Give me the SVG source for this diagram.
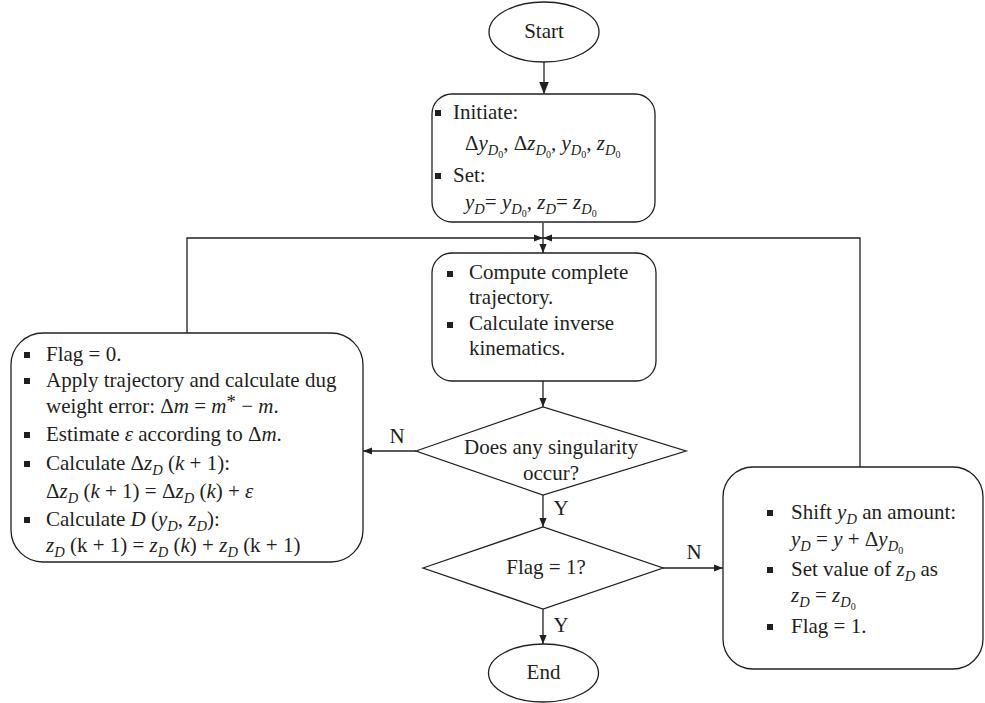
<svg xmlns="http://www.w3.org/2000/svg" width="985" height="703" viewBox="0 0 985 703">
<defs>
<style>
.ln{stroke:#231f20;stroke-width:1.3;fill:none}
.box{fill:#fff;stroke:#231f20;stroke-width:1.3}
.t{font-family:"Liberation Serif","Times New Roman",serif;font-size:21px;fill:#231f20}
.c{text-anchor:middle}
.i{font-style:italic}
.s{font-size:14.5px}
.ss{font-size:10px;font-style:normal}
.b{fill:#231f20}
</style>
<marker id="ah" viewBox="0 0 10 8" refX="10" refY="4" markerWidth="9" markerHeight="8" markerUnits="userSpaceOnUse" orient="auto"><path d="M0,0 L10,4 L0,8 z" fill="#231f20"/></marker>
<marker id="ahb" viewBox="0 0 10 8" refX="10" refY="4" markerWidth="12" markerHeight="11" markerUnits="userSpaceOnUse" orient="auto"><path d="M0,0 L10,4 L0,8 z" fill="#231f20"/></marker>
</defs>
<g id="connectors">
<line class="ln" x1="544" y1="62" x2="544" y2="94" marker-end="url(#ahb)"/>
<line class="ln" x1="543" y1="223" x2="543" y2="253" marker-end="url(#ah)"/>
<path class="ln" d="M187,333 V238 H543" marker-end="url(#ah)"/>
<path class="ln" d="M860,467 V238 H543" marker-end="url(#ah)"/>
<line class="ln" x1="543" y1="381" x2="543" y2="407" marker-end="url(#ah)"/>
<line class="ln" x1="416" y1="451" x2="363" y2="451" marker-end="url(#ah)"/>
<line class="ln" x1="543" y1="495" x2="543" y2="527" marker-end="url(#ah)"/>
<line class="ln" x1="663" y1="568" x2="723" y2="568" marker-end="url(#ah)"/>
<line class="ln" x1="543" y1="609" x2="543" y2="644" marker-end="url(#ah)"/>
<text class="t c" x="397" y="443">N</text>
<text class="t c" x="694" y="559">N</text>
<text class="t c" x="561" y="515">Y</text>
<text class="t c" x="561" y="632">Y</text>
</g>
<g id="start">
<ellipse class="box" cx="544" cy="32" rx="55" ry="30"/>
<text class="t c" x="544" y="38">Start</text>
</g>
<g id="init">
<rect class="box" x="432" y="94" width="223" height="128" rx="20"/>
<rect class="b" x="435" y="110" width="6" height="6"/>
<text class="t" x="453" y="119">Initiate:</text>
<text class="t" x="465" y="150">Δ<tspan class="i">y</tspan><tspan class="i s" dy="5">D</tspan><tspan class="ss" dy="3">0</tspan><tspan dy="-8">, Δ</tspan><tspan class="i">z</tspan><tspan class="i s" dy="5">D</tspan><tspan class="ss" dy="3">0</tspan><tspan dy="-8">, </tspan><tspan class="i">y</tspan><tspan class="i s" dy="5">D</tspan><tspan class="ss" dy="3">0</tspan><tspan dy="-8">, </tspan><tspan class="i">z</tspan><tspan class="i s" dy="5">D</tspan><tspan class="ss" dy="3">0</tspan></text>
<rect class="b" x="435" y="173" width="6" height="6"/>
<text class="t" x="453" y="182">Set:</text>
<text class="t" x="465" y="209"><tspan class="i">y</tspan><tspan class="i s" dy="5">D</tspan><tspan dy="-5">= </tspan><tspan class="i">y</tspan><tspan class="i s" dy="5">D</tspan><tspan class="ss" dy="3">0</tspan><tspan dy="-8">, </tspan><tspan class="i">z</tspan><tspan class="i s" dy="5">D</tspan><tspan dy="-5">= </tspan><tspan class="i">z</tspan><tspan class="i s" dy="5">D</tspan><tspan class="ss" dy="3">0</tspan></text>
</g>
<g id="compute">
<rect class="box" x="432" y="253" width="224" height="128" rx="20"/>
<rect class="b" x="447" y="271" width="6" height="6"/>
<text class="t" x="469" y="279">Compute complete</text>
<text class="t" x="469" y="304">trajectory.</text>
<rect class="b" x="447" y="322" width="6" height="6"/>
<text class="t" x="469" y="330">Calculate inverse</text>
<text class="t" x="469" y="355">kinematics.</text>
</g>
<g id="singularity">
<polygon class="box" points="416,451 543,407 686,451 543,495"/>
<text class="t c" x="551" y="454">Does any singularity</text>
<text class="t c" x="551" y="480">occur?</text>
</g>
<g id="flagcheck">
<polygon class="box" points="423,568 543,527 663,568 543,609"/>
<text class="t c" x="546" y="574">Flag = 1?</text>
</g>
<g id="end">
<ellipse class="box" cx="543.5" cy="673" rx="55" ry="29"/>
<text class="t c" x="543.5" y="679">End</text>
</g>
<g id="adjust">
<rect class="box" x="11" y="333" width="352" height="229" rx="32"/>
<rect class="b" x="24" y="352" width="6" height="6"/>
<text class="t" x="46" y="361">Flag = 0.</text>
<rect class="b" x="24" y="378" width="6" height="6"/>
<text class="t" x="46" y="387">Apply trajectory and calculate dug</text>
<text class="t" x="46" y="413">weight error: Δ<tspan class="i">m</tspan> = <tspan class="i">m</tspan><tspan font-size="19" dy="-5">*</tspan><tspan dy="5"> − </tspan><tspan class="i">m</tspan>.</text>
<rect class="b" x="24" y="432" width="6" height="6"/>
<text class="t" x="46" y="441">Estimate <tspan class="i">ε</tspan> according to Δ<tspan class="i">m</tspan>.</text>
<rect class="b" x="24" y="461" width="6" height="6"/>
<text class="t" x="46" y="470">Calculate Δ<tspan class="i">z</tspan><tspan class="i s" dy="5">D</tspan><tspan dy="-5"> (</tspan><tspan class="i">k</tspan> + 1):</text>
<text class="t" x="46" y="498">Δ<tspan class="i">z</tspan><tspan class="i s" dy="5">D</tspan><tspan dy="-5"> (</tspan><tspan class="i">k</tspan> + 1) = Δ<tspan class="i">z</tspan><tspan class="i s" dy="5">D</tspan><tspan dy="-5"> (</tspan><tspan class="i">k</tspan>) + <tspan class="i">ε</tspan></text>
<rect class="b" x="24" y="517" width="6" height="6"/>
<text class="t" x="46" y="526">Calculate <tspan class="i">D</tspan> (<tspan class="i">y</tspan><tspan class="i s" dy="5">D</tspan><tspan dy="-5">, </tspan><tspan class="i">z</tspan><tspan class="i s" dy="5">D</tspan><tspan dy="-5">):</tspan></text>
<text class="t" x="46" y="552"><tspan class="i">z</tspan><tspan class="i s" dy="5">D</tspan><tspan dy="-5"> (k + 1) = </tspan><tspan class="i">z</tspan><tspan class="i s" dy="5">D</tspan><tspan dy="-5"> (</tspan><tspan class="i">k</tspan>) + <tspan class="i">z</tspan><tspan class="i s" dy="5">D</tspan><tspan dy="-5"> (k + 1)</tspan></text>
</g>
<g id="shift">
<rect class="box" x="723" y="467" width="260" height="202" rx="30"/>
<rect class="b" x="767" y="510" width="6" height="6"/>
<text class="t" x="791" y="519">Shift <tspan class="i">y</tspan><tspan class="i s" dy="5">D</tspan><tspan dy="-5"> an amount:</tspan></text>
<text class="t" x="791" y="546"><tspan class="i">y</tspan><tspan class="i s" dy="5">D</tspan><tspan dy="-5"> = </tspan><tspan class="i">y</tspan> + Δ<tspan class="i">y</tspan><tspan class="i s" dy="5">D</tspan><tspan class="ss" dy="3">0</tspan></text>
<rect class="b" x="767" y="567" width="6" height="6"/>
<text class="t" x="791" y="576">Set value of <tspan class="i">z</tspan><tspan class="i s" dy="5">D</tspan><tspan dy="-5"> as</tspan></text>
<text class="t" x="791" y="602"><tspan class="i">z</tspan><tspan class="i s" dy="5">D</tspan><tspan dy="-5"> = </tspan><tspan class="i">z</tspan><tspan class="i s" dy="5">D</tspan><tspan class="ss" dy="3">0</tspan></text>
<rect class="b" x="767" y="624" width="6" height="6"/>
<text class="t" x="791" y="633">Flag = 1.</text>
</g>
</svg>
